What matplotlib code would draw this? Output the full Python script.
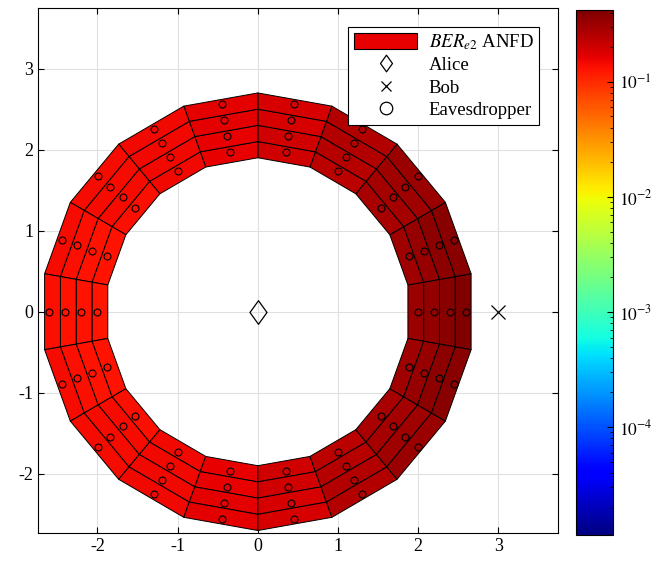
import matplotlib
matplotlib.use('Agg')
import matplotlib.pyplot as plt
import matplotlib.colors as mcolors
from matplotlib.collections import PolyCollection
import matplotlib.patches as mpatches
from matplotlib.lines import Line2D
from matplotlib.path import Path
import numpy as np

plt.rcParams['font.family'] = ['Liberation Serif', 'DejaVu Serif']
plt.rcParams['mathtext.fontset'] = 'stix'
plt.rcParams['axes.unicode_minus'] = False

# Eavesdropper ring: sector centre angles (deg) and radii
SECTOR_ANGLES = [0, 20, 40, 60, 80, 100, 120, 140, 160, 180,
                 200, 220, 240, 260, 280, 300, 320, 340]
RADII = [2.0, 2.2, 2.4, 2.6]
CELL_HALF_ANGLE = 10
CELL_HALF_RADIUS = 0.1

# BER per sector (rows) and radius (columns), upper half 0..180 deg
BER_UPPER = [
    [0.320, 0.348, 0.380, 0.420],  # 0
    [0.310, 0.335, 0.358, 0.380],  # 20
    [0.284, 0.298, 0.310, 0.322],  # 40
    [0.245, 0.252, 0.258, 0.265],  # 60
    [0.200, 0.196, 0.192, 0.188],  # 80
    [0.160, 0.162, 0.164, 0.166],  # 100
    [0.148, 0.149, 0.150, 0.150],  # 120
    [0.136, 0.139, 0.141, 0.143],  # 140
    [0.128, 0.132, 0.136, 0.139],  # 160
    [0.124, 0.128, 0.132, 0.136],  # 180
]
# lower half mirrors the upper half (200..340 deg)
BER_LOWER = BER_UPPER[1:9][::-1]
BER = np.array(BER_UPPER + BER_LOWER)

ALICE = (0, 0)
BOB = (3, 0)

VMIN, VMAX = 1.15e-5, 0.42
CB_TICKS = [1e-4, 1e-3, 1e-2, 1e-1]
CB_LABELS = [r'$10^{\mathrm{-}4}$', r'$10^{\mathrm{-}3}$', r'$10^{\mathrm{-}2}$', r'$10^{\mathrm{-}1}$']

# MATLAB-like (taller) diamond
diamond = Path([(0, 1), (0.72, 0), (0, -1), (-0.72, 0), (0, 1)],
               [Path.MOVETO, Path.LINETO, Path.LINETO, Path.LINETO, Path.CLOSEPOLY])

fig = plt.figure(figsize=(6.57, 5.61), dpi=100)
ax = fig.add_axes([0.058, 0.050, 0.791, 0.936])

polys = []
vals = []
ex, ey = [], []
for i, th in enumerate(SECTOR_ANGLES):
    t0 = np.deg2rad(th - CELL_HALF_ANGLE)
    t1 = np.deg2rad(th + CELL_HALF_ANGLE)
    for j, r in enumerate(RADII):
        ri, ro = r - CELL_HALF_RADIUS, r + CELL_HALF_RADIUS
        polys.append([(ri * np.cos(t0), ri * np.sin(t0)),
                      (ro * np.cos(t0), ro * np.sin(t0)),
                      (ro * np.cos(t1), ro * np.sin(t1)),
                      (ri * np.cos(t1), ri * np.sin(t1))])
        vals.append(BER[i, j])
        ex.append(r * np.cos(np.deg2rad(th)))
        ey.append(r * np.sin(np.deg2rad(th)))

norm = mcolors.LogNorm(vmin=VMIN, vmax=VMAX)
pc = PolyCollection(polys, array=np.array(vals), cmap='jet', norm=norm,
                    edgecolors='black', linewidths=0.7, zorder=2)
ax.add_collection(pc)

ax.plot(ex, ey, 'o', mfc='none', mec='black', ms=5, mew=0.8, zorder=3)
ax.plot(*ALICE, marker=diamond, ls='none', mfc='none', mec='black', ms=17, mew=0.9, zorder=3)
ax.plot(*BOB, 'x', color='black', ms=10, mew=0.9, zorder=3)

ax.set_xlim(-2.74, 3.74)
ax.set_ylim(-2.73, 3.75)
ax.set_xticks(range(-2, 4))
ax.set_yticks(range(-2, 4))
ax.grid(True, color='#e0e0e0', linewidth=0.8, zorder=0)
ax.set_axisbelow(True)
ax.tick_params(direction='in', top=True, right=True, labelsize=13, length=4)
for s in ax.spines.values():
    s.set_linewidth(0.8)

handles = [
    mpatches.Patch(facecolor='#e80000', edgecolor='black', linewidth=0.8),
    Line2D([], [], marker=diamond, ls='none', mfc='none', mec='black', ms=12, mew=0.9),
    Line2D([], [], marker='x', ls='none', color='black', ms=7, mew=0.9),
    Line2D([], [], marker='o', ls='none', mfc='none', mec='black', ms=9, mew=0.9),
]
labels = [r'$BER_{e2}$ ANFD', 'Alice', 'Bob', 'Eavesdropper']
leg = ax.legend(handles, labels, loc='upper right', fontsize=13.5,
                fancybox=False, framealpha=1, edgecolor='black',
                borderpad=0.3, labelspacing=0.22, handlelength=3.4,
                handleheight=0.9, handletextpad=0.6, borderaxespad=1.0)
leg.get_frame().set_linewidth(0.8)

cax = fig.add_axes([0.877, 0.046, 0.056, 0.936])
cb = fig.colorbar(pc, cax=cax)
cb.set_ticks(CB_TICKS)
cb.set_ticklabels(CB_LABELS)
cax.tick_params(which='both', direction='in', labelsize=12.5, pad=4)
cax.tick_params(which='major', length=4)
cax.tick_params(which='minor', length=2)
cb.outline.set_linewidth(0.8)

fig.savefig('out.png', dpi=100)
